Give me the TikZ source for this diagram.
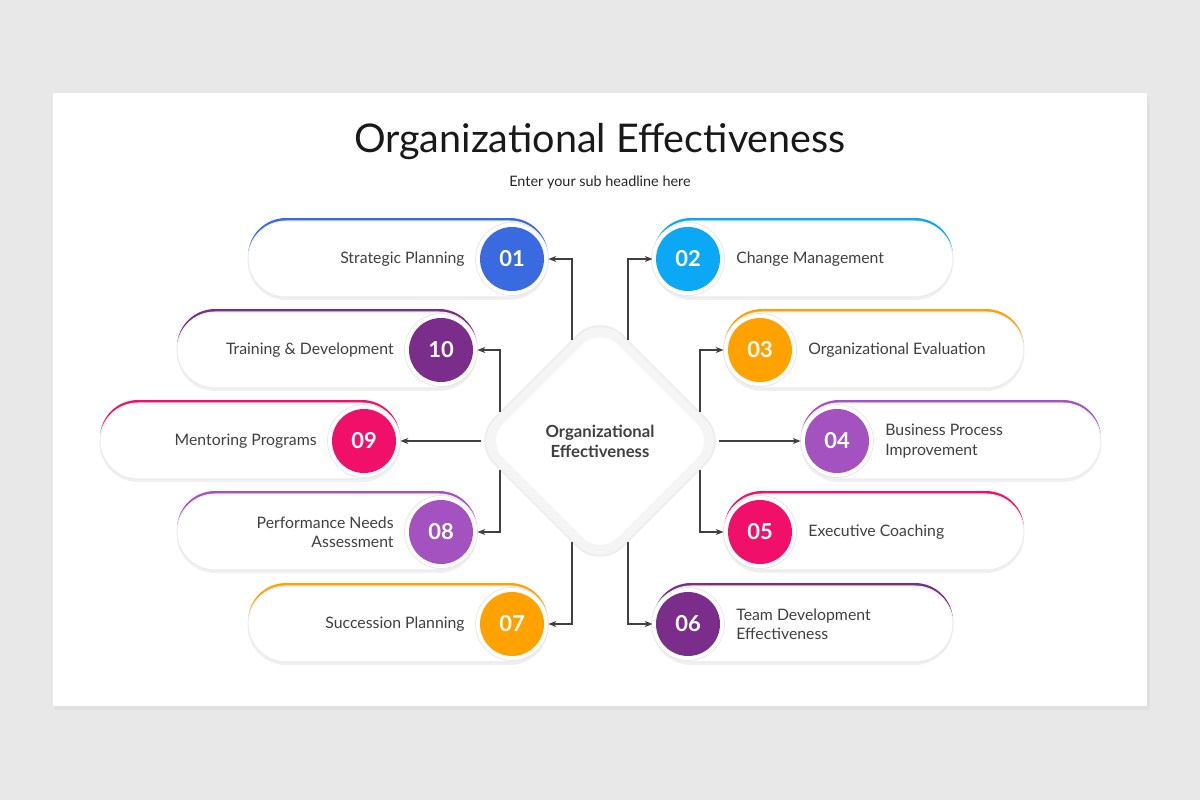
\documentclass[tikz,border=0pt]{standalone}
\usepackage{fontspec}
\setmainfont{Lato}
\usetikzlibrary{arrows.meta,positioning}
\definecolor{bgray}{HTML}{E9E8E9}
\definecolor{cblue}{HTML}{3A6AE0}
\definecolor{csky}{HTML}{0AA8F5}
\definecolor{corange}{HTML}{FFA200}
\definecolor{cviolet}{HTML}{A352BF}
\definecolor{cpink}{HTML}{F0106A}
\definecolor{cplum}{HTML}{7B2D8C}
\definecolor{ctext}{HTML}{404040}
\tikzset{
  pill/.style={draw=black!8, line width=0.6pt, fill=white, rounded corners=0.76cm,
    minimum width=6cm, minimum height=1.52cm, inner sep=0pt},
  rim/.style={rounded corners=0.76cm, minimum width=6cm, minimum height=1.52cm, inner sep=0pt},
  ring/.style={circle, fill=white, draw=black!10, minimum size=1.46cm, inner sep=0pt},
  numdot/.style={circle, minimum size=1.28cm, inner sep=0pt, text=white,
    font=\bfseries\fontsize{12.5}{14}\selectfont},
  lbl/.style={font=\fontsize{9}{11}\selectfont, text=ctext, inner sep=0pt},
  arr/.style={-{Stealth[length=4.5pt,width=3.5pt]}, draw=black!75, line width=0.6pt}
}
\begin{document}
\begin{tikzpicture}[x=0.02cm,y=-0.02cm]
\useasboundingbox (0,0) rectangle (1200,800);
\fill[bgray] (0,0) rectangle (1200,800);
\fill[black!12] (55,97) rectangle (1150,710);
\fill[white] (53,93) rectangle (1147,706);
% title
\node[font=\fontsize{22.5}{27}\selectfont, text=black!90] (title) at (600,142) {Organizational Effectiveness};
\node[font=\fontsize{8.2}{10}\selectfont, text=black!85] (sub) at (600,182) {Enter your sub headline here};
% pills: id/centre x/y/colour/circle x/side/label
\foreach \id/\cx/\cy/\col/\dx/\sd/\txt in {
  1/398/259/cblue/512/l/{Strategic Planning},
  10/327/350/cplum/441/l/{Training \& Development},
  9/250/441/cpink/364/l/{Mentoring Programs},
  8/327/532/cviolet/441/l/{Performance Needs\\Assessment},
  7/398/624/corange/512/l/{Succession Planning},
  2/803/259/csky/688/r/{Change Management},
  3/874/350/corange/760/r/{Organizational Evaluation},
  4/951/441/cviolet/837/r/{Business Process\\Improvement},
  5/874/532/cpink/760/r/{Executive Coaching},
  6/803/624/cplum/688/r/{Team Development\\Effectiveness}}{
  \begin{scope}
    \clip (\cx-160,\cy-45) rectangle (\cx+160,\cy-8);
    \node[rim, fill=\col] at (\cx,\cy-3) {};
  \end{scope}
  \node[rim, fill=black!6] at (\cx,\cy+3) {};
  \node[pill] (p\id) at (\cx,\cy) {};
  \node[ring] at (\dx,\cy) {};
  \node[numdot, fill=\col] (n\id) at (\dx,\cy) {\ifnum\id<10 0\fi\id};
  \if\sd l
    \node[lbl, align=right, anchor=east] (t\id) at (\dx-47,\cy) {\txt};
  \else
    \node[lbl, align=left, anchor=west] (t\id) at (\dx+48,\cy) {\txt};
  \fi
}
% centre diamond
\draw[black!7, line width=1pt, fill=black!4, rounded corners=18] (600,313)--(728,441)--(600,569)--(472,441)--cycle;
\fill[white, rounded corners=14] (600,327)--(714,441)--(600,555)--(486,441)--cycle;
\node[font=\bfseries\fontsize{9.5}{11.5}\selectfont, text=ctext, align=center] (core) at (600,441) {Organizational\\Effectiveness};
% connectors
\coordinate (s1) at (572,340); \coordinate (s2) at (628,340);
\coordinate (s10) at (500,412); \coordinate (s3) at (700,412);
\coordinate (s8) at (500,470); \coordinate (s5) at (700,470);
\coordinate (s7) at (572,542); \coordinate (s6) at (628,542);
\coordinate (s9) at (481,441); \coordinate (s4) at (719,441);
\draw[arr] (s1) |- (p1.east);
\draw[arr] (s2) |- (p2.west);
\draw[arr] (s10) |- (p10.east);
\draw[arr] (s3) |- (p3.west);
\draw[arr] (s9) -- (p9.east);
\draw[arr] (s4) -- (p4.west);
\draw[arr] (s8) |- (p8.east);
\draw[arr] (s5) |- (p5.west);
\draw[arr] (s7) |- (p7.east);
\draw[arr] (s6) |- (p6.west);
\end{tikzpicture}
\end{document}
